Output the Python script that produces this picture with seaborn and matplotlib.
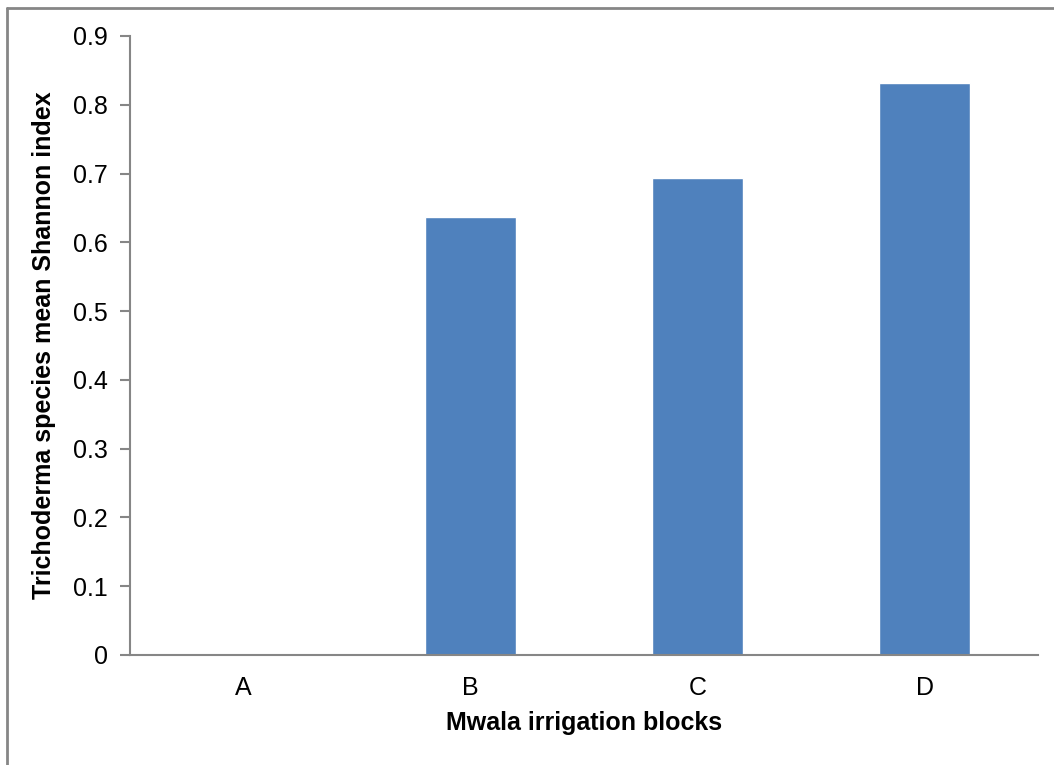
import matplotlib
matplotlib.use("Agg")
import matplotlib.pyplot as plt
from matplotlib.lines import Line2D
import seaborn as sns
import pandas as pd

blocks = ["A", "B", "C", "D"]
shannon = [0.0, 0.637, 0.693, 0.831]
yticks = [0, 0.1, 0.2, 0.3, 0.4, 0.5, 0.6, 0.7, 0.8, 0.9]
ytick_labels = ["0", "0.1", "0.2", "0.3", "0.4", "0.5", "0.6", "0.7", "0.8", "0.9"]

sns.set_style("white")
plt.rcParams["font.family"] = ["Liberation Sans", "DejaVu Sans"]
plt.rcParams["text.color"] = "black"
plt.rcParams["axes.labelcolor"] = "black"
plt.rcParams["xtick.color"] = "black"
plt.rcParams["ytick.color"] = "black"

df = pd.DataFrame({"block": blocks, "shannon": shannon})

W, H = 1054, 765
fig = plt.figure(figsize=(W / 100, H / 100), dpi=100)
ax = fig.add_axes([130 / W, (H - 655) / H, (1038 - 130) / W, (655 - 36) / H])

sns.barplot(data=df, x="block", y="shannon", color="#4F81BD", saturation=1,
            width=0.4, ax=ax)

ax.set_ylim(0, 0.9)
ax.set_xlim(-0.5, 3.5)
ax.set_yticks(yticks)
ax.set_yticklabels(ytick_labels)

grey = "#868686"
for side in ["top", "right"]:
    ax.spines[side].set_visible(False)
for side in ["left", "bottom"]:
    ax.spines[side].set_color(grey)
    ax.spines[side].set_linewidth(1.5)

ax.tick_params(axis="y", which="major", direction="out", length=7, width=1.5,
               color=grey, labelcolor="black", labelsize=18, pad=9, left=True)
ax.tick_params(axis="x", which="major", length=0, labelsize=18, pad=15,
               labelcolor="black")

ax.set_xlabel("Mwala irrigation blocks", fontsize=18, fontweight="bold",
              labelpad=8, color="black")
ax.set_ylabel("Trichoderma species mean Shannon index", fontsize=18,
              fontweight="bold", labelpad=12, color="black")

# outer frame lines (top and left edges)
fig.add_artist(Line2D([7 / W, 7 / W], [0, (H - 8) / H], transform=fig.transFigure,
                      color=grey, linewidth=2))
fig.add_artist(Line2D([7 / W, 1], [(H - 8) / H, (H - 8) / H], transform=fig.transFigure,
                      color=grey, linewidth=2))

fig.savefig("out.png", dpi=100)
